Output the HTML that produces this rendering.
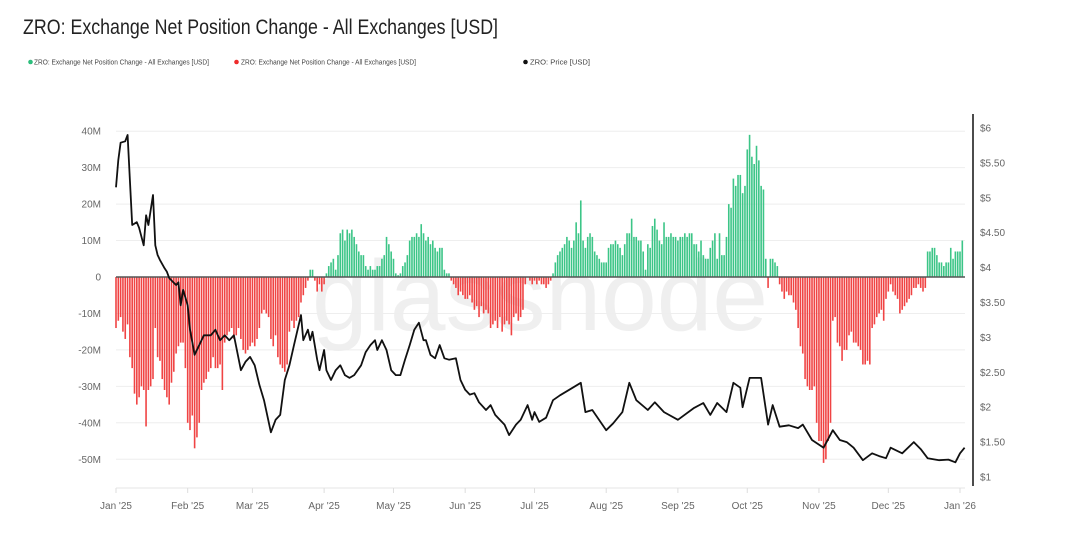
<!DOCTYPE html>
<html><head><meta charset="utf-8"><style>
html,body{margin:0;padding:0;background:#fff;}
svg{display:block;font-family:"Liberation Sans",sans-serif;}
</style></head><body>
<svg id="chart" width="1080" height="533" viewBox="0 0 1080 533">
<text x="23" y="34" font-size="21" fill="#222" textLength="475" lengthAdjust="spacingAndGlyphs">ZRO: Exchange Net Position Change - All Exchanges [USD]</text>
<g>
<g><circle cx="30.5" cy="62" r="2.3" fill="#2dbe7c"/><text x="34" y="64.5" font-size="7" fill="#444" textLength="175" lengthAdjust="spacingAndGlyphs">ZRO: Exchange Net Position Change - All Exchanges [USD]</text></g>
<g><circle cx="236.5" cy="62" r="2.3" fill="#ee2b2b"/><text x="241" y="64.5" font-size="7" fill="#444" textLength="175" lengthAdjust="spacingAndGlyphs">ZRO: Exchange Net Position Change - All Exchanges [USD]</text></g>
<g><circle cx="525.5" cy="62" r="2.3" fill="#111"/><text x="530" y="64.5" font-size="7" fill="#444" textLength="60" lengthAdjust="spacingAndGlyphs">ZRO: Price [USD]</text></g>
</g>
<text x="540" y="330" font-size="100" fill="#efefef" text-anchor="middle">glassnode</text>
<g id="grid"></g><g id="bars"></g><g id="axes"></g><g id="line"></g>
</svg>
<script>
const monthLabels=["Jan '25","Feb '25","Mar '25","Apr '25","May '25","Jun '25","Jul '25","Aug '25","Sep '25","Oct '25","Nov '25","Dec '25","Jan '26"];
const monthDays=[0,31,59,90,120,151,181,212,243,273,304,334,365];
const leftTicks=[40,30,20,10,0,-10,-20,-30,-40,-50];
const leftTickLabels=["40M","30M","20M","10M","0","-10M","-20M","-30M","-40M","-50M"];
const rightTicks=[6,5.5,5,4.5,4,3.5,3,2.5,2,1.5,1];
const rightTickLabels=["$6","$5.50","$5","$4.50","$4","$3.50","$3","$2.50","$2","$1.50","$1"];
const netChange=[-14,-12,-11,-15,-17,-13,-22,-25,-32,-35,-33,-30,-31,-41,-31,-30,-28,-14,-22,-23,-28,-31,-33,-35,-29,-26,-21,-19,-18,-18,-25,-40,-42,-38,-47,-44,-40,-31,-29,-28,-26,-25,-22,-25,-25,-24,-31,-18,-16,-15,-14,-17,-16,-14,-17,-20,-21,-20,-19,-18,-19,-17,-14,-10,-9,-10,-11,-17,-19,-16,-22,-24,-25,-26,-24,-15,-12,-14,-12,-11,-7,-5,-3,-1,2,2,-1,-4,-2,-4,-2,1,3,4,5,2,6,12,13,10,13,12,13,11,9,7,6,6,3,2,3,2,2,3,3,5,6,11,9,7,5,1,0.5,1,3,4,6,10,11,11,12,11,14.5,12,10,11,9,10,8,7,8,8,2,1,1,-1,-2,-3,-5,-4,-5,-6,-6,-5,-7,-9,-8,-11,-8,-10,-9,-10,-14,-13,-12,-14,-11,-15,-13,-12,-13,-16,-11,-10,-12,-11,-9,-2,0,-1,-2,-1,-2,-1,-2,-2,-3,-2,-1,1,4,6,7,8,9,11,10,8,10,15,12,21,10,8,11,12,11,7,6,5,4,4,4,8,9,9,10,9,8,6,9,12,12,16,11,11,10,10,7,2,9,8,14,16,13,10,9,15,11,11,12,11,11,10,11,11,12,11,12,12,9,9,7,10,6,5,5,8,10,12,5,12,6,6,11,20,19,27,25,28,28,23,25,35,39,33,31,36,32,25,24,5,-3,5,5,4,3,-2,-4,-6,-4,-5,-5,-7,-9,-14,-19,-21,-28,-30,-31,-31,-30,-40,-45,-45,-51,-50,-45,-40,-12,-11,-18,-19,-23,-20,-20,-16,-15,-18,-18,-19,-20,-24,-24,-23,-24,-14,-13,-11,-10,-9,-12,-6,-4,-2,-4,-5,-6,-10,-9,-8,-7,-6,-5,-3,-3,-2,-3,-4,-3,7,7,8,8,6,4,4,3,4,4,8,5,7,7,7,10];
const priceDay=[0,1,2,4,5,6,7,9,10,12,13,14,16,17,18,19,21,22,23,26,27,28,29,31,32,34,36,38,41,43,45,47,49,51,54,56,58,60,62,64,67,69,71,73,75,77,80,81,83,84,85,87,88,90,91,93,95,97,99,101,103,106,108,110,112,113,115,117,119,121,123,125,127,129,131,133,134,136,138,140,142,144,147,149,151,153,155,157,160,162,164,166,168,170,173,175,177,178,180,181,183,186,189,192,196,201,203,206,212,215,219,222,225,230,233,237,243,250,254,257,260,264,267,270,271,274,279,282,284,287,291,295,297,301,306,310,313,316,319,323,327,330,333,335,340,345,348,351,356,360,363,365,367];
const price=[5.15,5.54,5.79,5.81,5.90,5.25,4.61,4.65,4.57,4.32,4.75,4.61,5.04,4.32,4.18,4.11,3.99,3.94,3.85,3.75,3.79,3.46,3.68,3.46,3.11,2.75,2.89,3.03,3.03,3.11,2.96,3.03,2.96,3.03,2.53,2.65,2.72,2.60,2.32,2.10,1.64,1.82,1.89,2.39,2.60,2.89,3.32,2.96,3.11,2.96,3.08,2.68,2.53,2.82,2.53,2.39,2.53,2.60,2.46,2.42,2.46,2.60,2.79,2.89,2.96,2.82,2.96,2.82,2.53,2.46,2.46,2.68,2.89,3.11,3.21,2.96,2.96,2.75,2.70,2.89,2.70,2.68,2.70,2.39,2.25,2.18,2.20,2.07,1.96,2.03,1.89,1.82,1.75,1.60,1.75,1.82,1.96,2.03,1.82,1.93,1.79,1.85,2.10,2.17,2.25,2.35,1.93,1.96,1.67,1.77,1.93,2.35,2.10,1.96,2.07,1.93,1.82,1.99,2.06,1.89,2.06,1.93,2.35,2.28,2.00,2.42,2.42,1.75,2.03,1.72,1.74,1.70,1.75,1.53,1.42,1.67,1.53,1.50,1.42,1.24,1.34,1.30,1.27,1.42,1.34,1.50,1.40,1.27,1.24,1.25,1.21,1.34,1.42];

const X0=116,X1=965,PX_DAY=(960-116)/365;
const xScale=d=>X0+d*PX_DAY;
const yL=v=>277-v*3.645;
const yR=p=>128+(6-p)*69.8;
const NS="http://www.w3.org/2000/svg";
function mk(tag,attrs,parent){const e=document.createElementNS(NS,tag);for(const k in attrs)e.setAttribute(k,attrs[k]);parent.appendChild(e);return e;}
const grid=document.getElementById('grid'),bars=document.getElementById('bars'),axes=document.getElementById('axes'),line=document.getElementById('line');

leftTicks.forEach((t,i)=>{
  if(t!==0){const g=mk('line',{x1:X0,x2:X1,y1:yL(t),y2:yL(t),stroke:'#eeeeee','stroke-width':1},grid);
  
  }
  const tx=mk('text',{x:101,y:yL(t)+3.5,'font-size':10,fill:'#666','text-anchor':'end'},axes);
  tx.textContent=leftTickLabels[i];
  
  
});
rightTicks.forEach((t,i)=>{
  const tx=mk('text',{x:980,y:yR(t)+3.5,'font-size':10,fill:'#666'},axes);
  tx.textContent=rightTickLabels[i];
  
  
});
const ra=mk('line',{x1:973,x2:973,y1:114,y2:486,stroke:'#111','stroke-width':1.5},axes);


const xb=mk('line',{x1:X0,x2:X1,y1:488,y2:488,stroke:'#e6e6e6','stroke-width':1},axes);


monthDays.forEach((d,i)=>{
  const tk=mk('line',{x1:xScale(d),x2:xScale(d),y1:488,y2:493,stroke:'#ddd'},axes);
  
  
  const tx=mk('text',{x:xScale(d),y:509,'font-size':10,fill:'#666','text-anchor':'middle'},axes);
  tx.textContent=monthLabels[i];
  
  
});
netChange.forEach((v,i)=>{
  const x=xScale(i), y0=yL(0), y1=yL(v);
  const r=mk('rect',{x:x-0.8,y:Math.min(y0,y1),width:1.6,height:Math.max(0.5,Math.abs(y1-y0)),fill:v>=0?'#3cc587':'#f04444'},bars);
  
  
});
const zl=mk('line',{x1:X0,x2:X1,y1:yL(0),y2:yL(0),stroke:'#555','stroke-width':1.5},axes);


const pts=priceDay.map((d,i)=>xScale(d).toFixed(1)+','+yR(price[i]).toFixed(1)).join(' ');
const pl=mk('polyline',{points:pts,fill:'none',stroke:'#111','stroke-width':1.8,'stroke-linejoin':'round'},line);


</script>
</body></html>
